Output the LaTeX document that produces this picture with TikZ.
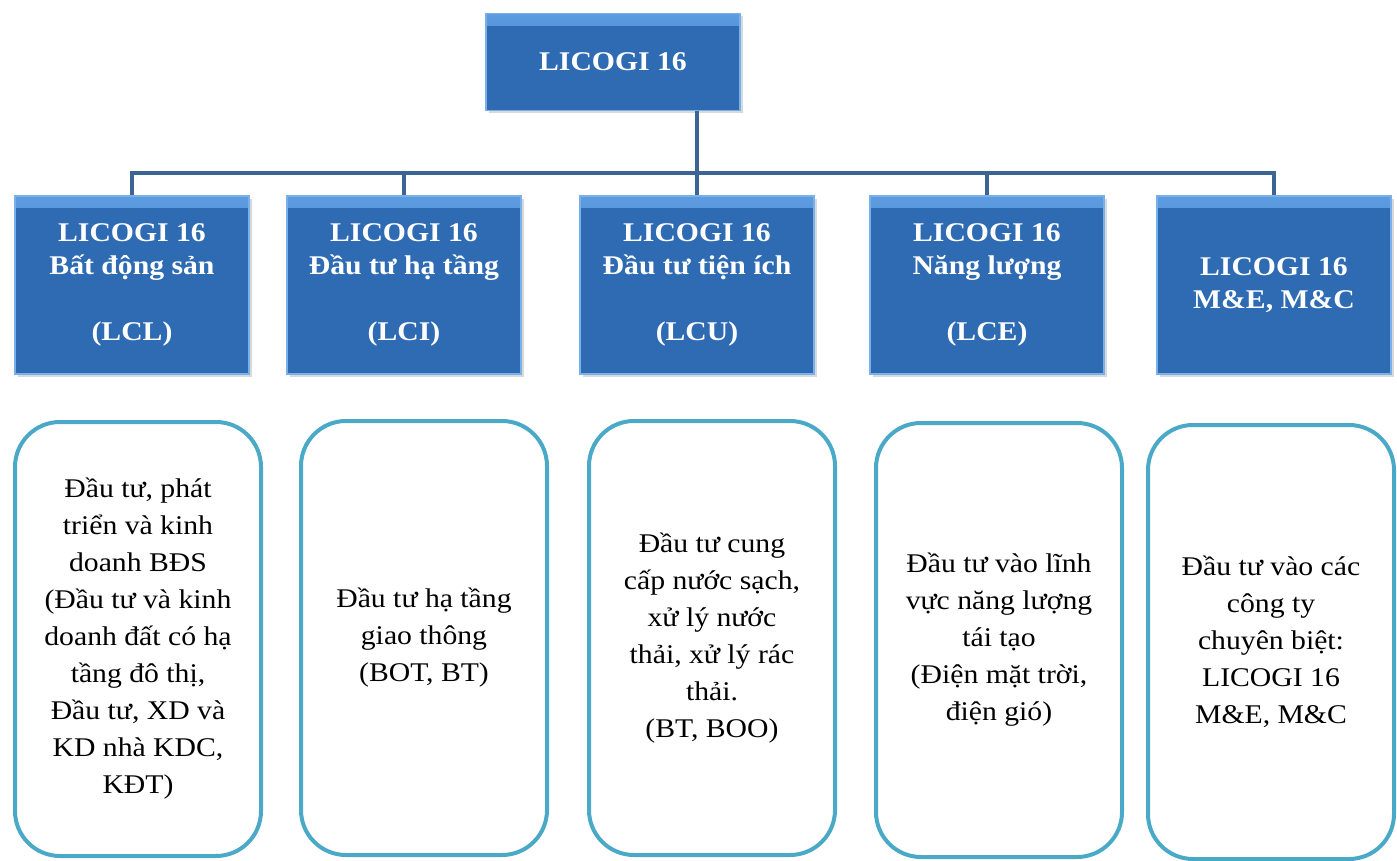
\documentclass[tikz,border=0pt]{standalone}
\usepackage{fontspec}
\setmainfont{Liberation Serif}[FakeStretch=1.1]
\usetikzlibrary{shadows}
\definecolor{unitblue}{HTML}{2E6BB3}
\definecolor{unittop}{HTML}{5E9CE2}
\definecolor{unitedge}{HTML}{79B0EA}
\definecolor{linkblue}{HTML}{3C6593}
\definecolor{taskframe}{HTML}{4BA9C8}
\tikzset{
  unit/.style={fill=unitblue, draw=unitedge, line width=1.5pt,
    minimum width=234pt, minimum height=178pt, inner sep=0pt,
    text=white, align=center, font=\fontsize{27}{33}\selectfont\bfseries,
    drop shadow={shadow xshift=3pt, shadow yshift=-3pt, opacity=0.3},
    path picture={\shade[top color=unittop, bottom color=unitblue]
      (path picture bounding box.north west) rectangle
      ([yshift=-12pt]path picture bounding box.north east);}},
  task/.style={draw=taskframe, line width=4pt, rounded corners=45pt,
    minimum width=246pt, minimum height=434pt, align=center,
    font=\fontsize{27}{37}\selectfont},
  link/.style={draw=linkblue, line width=3.5pt}
}
\begin{document}
\begin{tikzpicture}[x=1pt, y=-1pt]
      \useasboundingbox (0,0) rectangle (1397,861);
      \node[unit, minimum width=254pt, minimum height=97pt] (top) at (613,62) {LICOGI 16};
      \node[unit] (lcl) at (132,285) {LICOGI 16\\Bất động sản\\[33pt](LCL)};
      \node[unit] (lci) at (404,285) {LICOGI 16\\Đầu tư hạ tầng\\[33pt](LCI)};
      \node[unit] (lcu) at (697,285) {LICOGI 16\\Đầu tư tiện ích\\[33pt](LCU)};
      \node[unit] (lce) at (987,285) {LICOGI 16\\Năng lượng\\[33pt](LCE)};
      \node[unit] (lcm) at (1274,285) {LICOGI 16\\M\&E, M\&C};
      \coordinate (bus) at (697,173);
      \begin{scope}[link]
        \draw (top.south -| bus) |- (lcl.north |- bus) -- (lcl.north);
        \draw (top.south -| bus) |- (lci.north |- bus) -- (lci.north);
        \draw (top.south -| bus) -- (lcu.north);
        \draw (top.south -| bus) |- (lce.north |- bus) -- (lce.north);
        \draw (top.south -| bus) |- (lcm.north |- bus) -- (lcm.north);
      \end{scope}
      \node[task] (t1) at (138,639) {Đầu tư, phát\\triển và kinh\\doanh BĐS\\(Đầu tư và kinh\\doanh đất có hạ\\tầng đô thị,\\Đầu tư, XD và\\KD nhà KDC,\\KĐT)};
      \node[task] (t2) at (424,638) {Đầu tư hạ tầng\\giao thông\\(BOT, BT)};
      \node[task] (t3) at (712,638) {Đầu tư cung\\cấp nước sạch,\\xử lý nước\\thải, xử lý rác\\thải.\\(BT, BOO)};
      \node[task] (t4) at (999,640) {Đầu tư vào lĩnh\\vực năng lượng\\tái tạo\\(Điện mặt trời,\\điện gió)};
      \node[task] (t5) at (1271,642) {Đầu tư vào các\\công ty\\chuyên biệt:\\LICOGI 16\\M\&E, M\&C};
    \end{tikzpicture}
\end{document}
